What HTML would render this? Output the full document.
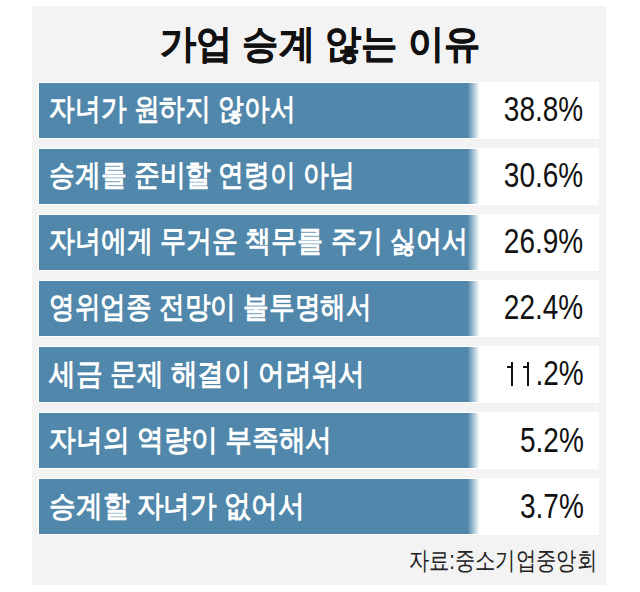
<!DOCTYPE html>
<html><head><meta charset="utf-8"><style>
html,body{margin:0;padding:0;background:#fff;width:640px;height:592px;overflow:hidden;font-family:"Liberation Sans",sans-serif;}
.panel{position:absolute;left:32px;top:6px;width:574px;height:579px;background:#f3f3f3;}
.title{position:absolute;left:0;top:19px;width:640px;text-align:center;font-size:39px;font-weight:bold;color:#111;line-height:50px;transform:scaleX(0.93);transform-origin:320px 0;-webkit-text-stroke:0.4px #111;}
.row{position:absolute;left:38px;width:561px;height:57px;background:#fff;}
.bar{position:absolute;left:1px;top:1px;width:441px;height:55px;background:linear-gradient(to right,#5087aa 0,#5087aa 428.5px,#fff 440.5px);}
.lbl{position:absolute;left:11px;top:-0.5px;height:56px;line-height:56px;color:#fff;font-size:30px;font-weight:bold;white-space:nowrap;transform-origin:0 0;}
.val{position:absolute;right:15.5px;top:-0.6px;height:56px;line-height:56px;color:#111;font-size:35px;}
.val span{display:inline-block;transform:scaleX(0.8);transform-origin:right center;}
.h1{font-weight:normal;color:transparent;}
.k{position:absolute;background:#111;}
.src{position:absolute;right:43.5px;top:544px;font-size:25px;color:#222;line-height:32px;transform:scaleX(0.812);transform-origin:right 0;white-space:nowrap;}
</style></head><body>
<div class="panel"></div>
<div class="title">가업 승계 않는 이유</div>
<div class="row" style="top:81.6px"><div class="bar"></div><div class="lbl" style="transform:scaleX(0.8595)">자녀가 원하지 않아서</div><div class="val"><span>38.8%</span></div></div>
<div class="row" style="top:147.7px"><div class="bar"></div><div class="lbl" style="transform:scaleX(0.8612)">승계를 준비할 연령이 아님</div><div class="val"><span>30.6%</span></div></div>
<div class="row" style="top:213.8px"><div class="bar"></div><div class="lbl" style="transform:scaleX(0.8668)">자녀에게 무거운 책무를 주기 싫어서</div><div class="val"><span>26.9%</span></div></div>
<div class="row" style="top:279.9px"><div class="bar"></div><div class="lbl" style="transform:scaleX(0.8569)">영위업종 전망이 불투명해서</div><div class="val"><span>22.4%</span></div></div>
<div class="row" style="top:346.0px"><div class="bar"></div><div class="lbl" style="transform:scaleX(0.8903)">세금 문제 해결이 어려워서</div><div class="val"><span><b class="h1">1</b><b class="h1">1</b>.2%</span></div><i class="k" style="left:472.9px;top:16px;width:2.4px;height:23.9px"></i><i class="k" style="left:469px;top:20px;width:4.2px;height:2.4px"></i><i class="k" style="left:488.6px;top:16px;width:2.4px;height:23.9px"></i><i class="k" style="left:484.7px;top:20px;width:4.2px;height:2.4px"></i></div>
<div class="row" style="top:412.1px"><div class="bar"></div><div class="lbl" style="transform:scaleX(0.8942)">자녀의 역량이 부족해서</div><div class="val"><span>5.2%</span></div></div>
<div class="row" style="top:478.2px"><div class="bar"></div><div class="lbl" style="transform:scaleX(0.8918)">승계할 자녀가 없어서</div><div class="val"><span>3.7%</span></div></div>
<div class="src">자료:중소기업중앙회</div>
</body></html>
